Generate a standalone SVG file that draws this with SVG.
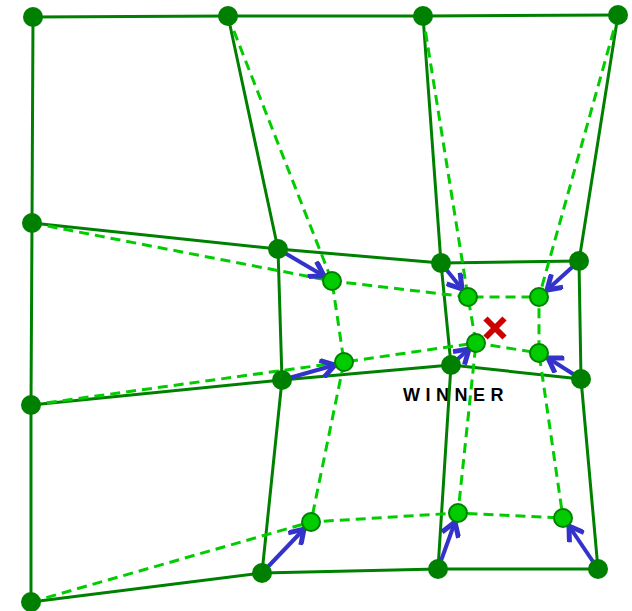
<svg xmlns="http://www.w3.org/2000/svg" width="632" height="611" viewBox="0 0 632 611">
<style>
.solid{stroke:#008000;stroke-width:3;fill:none;stroke-linejoin:round}
.dash{stroke:#00CC00;stroke-width:3;fill:none;stroke-dasharray:10,6}
.arrow{stroke:#3333CC;stroke-width:4;fill:none;marker-end:url(#ah)}
.dark{fill:#008000}
.light{fill:#00CC00;stroke:#008000;stroke-width:2}
</style>
<defs>
<marker id="ah" markerUnits="userSpaceOnUse" markerWidth="20" markerHeight="20" refX="13" refY="8" orient="auto" viewBox="0 0 16 16">
<path d="M2,1 L13,8 L2,15" fill="none" stroke="#3333CC" stroke-width="4" stroke-linecap="butt"/>
</marker>
</defs>
<rect width="632" height="611" fill="#ffffff"/>
<g id="winner-label">
<text x="456" y="401" font-family="Liberation Sans, Arial, sans-serif" font-size="18" font-weight="bold" letter-spacing="5.5" text-anchor="middle" fill="#000000">WINNER</text>
</g>
<g id="connectors">
<polyline class="solid" points="33,17 228,16 423,16 618,15"/>
<polyline class="solid" points="32,223 278,249 441,263 579,261"/>
<polyline class="solid" points="31,405 282,380 451,365 581,379"/>
<polyline class="solid" points="31,602 262,573 438,569 598,569"/>
<polyline class="solid" points="33,17 32,223 31,405 31,602"/>
<polyline class="solid" points="228,16 278,249 282,380 262,573"/>
<polyline class="solid" points="423,16 441,263 451,365 438,569"/>
<polyline class="solid" points="618,15 579,261 581,379 598,569"/>
<polyline class="dash" points="32,223 332,281 468,297 539,297"/>
<polyline class="dash" points="31,405 344,362 476,343 539,353"/>
<polyline class="dash" points="31,602 311,522 458,513 563,518"/>
<polyline class="dash" points="228,16 332,281 344,362 311,522"/>
<polyline class="dash" points="423,16 468,297 476,343 458,513"/>
<polyline class="dash" points="618,15 539,297 539,353 563,518"/>
<line class="arrow" x1="278" y1="249" x2="324" y2="276"/>
<line class="arrow" x1="441" y1="263" x2="462" y2="289"/>
<line class="arrow" x1="579" y1="261" x2="547" y2="290"/>
<line class="arrow" x1="282" y1="380" x2="335" y2="365"/>
<line class="arrow" x1="451" y1="365" x2="469" y2="349"/>
<line class="arrow" x1="581" y1="379" x2="548" y2="358"/>
<line class="arrow" x1="262" y1="573" x2="304" y2="529"/>
<line class="arrow" x1="438" y1="569" x2="455" y2="522"/>
<line class="arrow" x1="598" y1="569" x2="569" y2="526"/>
</g>
<g id="n00"><circle class="dark" cx="33" cy="17" r="10"/></g>
<g id="n01"><circle class="dark" cx="228" cy="16" r="10"/></g>
<g id="n02"><circle class="dark" cx="423" cy="16" r="10"/></g>
<g id="n03"><circle class="dark" cx="618" cy="15" r="10"/></g>
<g id="n10"><circle class="dark" cx="32" cy="223" r="10"/></g>
<g id="n11"><circle class="dark" cx="278" cy="249" r="10"/></g>
<g id="n12"><circle class="dark" cx="441" cy="263" r="10"/></g>
<g id="n13"><circle class="dark" cx="579" cy="261" r="10"/></g>
<g id="n20"><circle class="dark" cx="31" cy="405" r="10"/></g>
<g id="n21"><circle class="dark" cx="282" cy="380" r="10"/></g>
<g id="n22"><circle class="dark" cx="451" cy="365" r="10"/></g>
<g id="n23"><circle class="dark" cx="581" cy="379" r="10"/></g>
<g id="n30"><circle class="dark" cx="31" cy="602" r="10"/></g>
<g id="n31"><circle class="dark" cx="262" cy="573" r="10"/></g>
<g id="n32"><circle class="dark" cx="438" cy="569" r="10"/></g>
<g id="n33"><circle class="dark" cx="598" cy="569" r="10"/></g>
<g id="m11"><circle class="light" cx="332" cy="281" r="9"/></g>
<g id="m12"><circle class="light" cx="468" cy="297" r="9"/></g>
<g id="m13"><circle class="light" cx="539" cy="297" r="9"/></g>
<g id="m21"><circle class="light" cx="344" cy="362" r="9"/></g>
<g id="m22"><circle class="light" cx="476" cy="343" r="9"/></g>
<g id="m23"><circle class="light" cx="539" cy="353" r="9"/></g>
<g id="m31"><circle class="light" cx="311" cy="522" r="9"/></g>
<g id="m32"><circle class="light" cx="458" cy="513" r="9"/></g>
<g id="m33"><circle class="light" cx="563" cy="518" r="9"/></g>
<g id="winner-mark">
<path d="M485.5,318.5 L504.5,337.5 M504.5,318.5 L485.5,337.5" stroke="#CC0000" stroke-width="6" fill="none"/>
</g>
</svg>
